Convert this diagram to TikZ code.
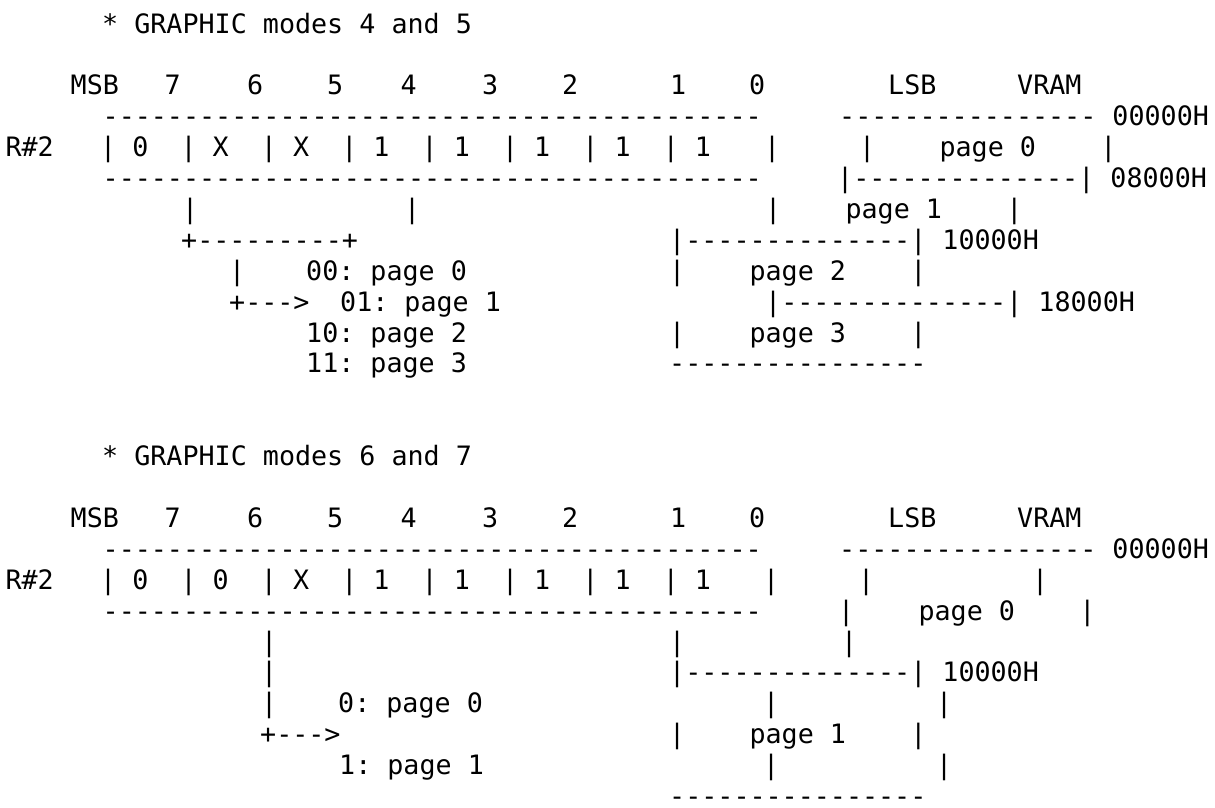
\documentclass[tikz,border=0pt]{standalone}
\usepackage{fontspec}
\setmonofont{DejaVu Sans Mono}
\usepackage{tikz}

\tikzset{
  ascii/.style={font=\ttfamily\fontsize{26.7}{31}\selectfont,
                inner sep=0pt, anchor=base west},
}

% Rules of the register box and the VRAM map
\newcommand{\bitrule}{----------%
----------%
----------%
----------%
-}
\newcommand{\vramrule}{----------------}
\newcommand{\vramsep}{|--------------|}

\begin{document}
\begin{tikzpicture}[x=1pt, y=-30.9pt]
  \useasboundingbox[fill=white] (0pt,0pt) rectangle (1215pt,-807pt);

  \begin{scope}[yshift=-33pt]
  % ---- GRAPHIC modes 4 and 5 ----
  \node[ascii] (titleA) at (102, 0) {*~GRAPHIC~modes~4~and~5};

  % Bit numbers
  \node[ascii] (msbA)  at (70.5, 2)  {MSB};
  \node[ascii] (b7A)   at (164.5, 2) {7};
  \node[ascii] (b6A)   at (247, 2)   {6};
  \node[ascii] (b5A)   at (327, 2)   {5};
  \node[ascii] (b4A)   at (400.5, 2) {4};
  \node[ascii] (b3A)   at (482, 2)   {3};
  \node[ascii] (b2A)   at (562, 2)   {2};
  \node[ascii] (b1A)   at (670, 2)   {1};
  \node[ascii] (b0A)   at (749, 2)   {0};
  \node[ascii] (lsbA)  at (888, 2)   {LSB};
  \node[ascii] (vramA) at (1017, 2)  {VRAM};

  % Register R#2
  \node[ascii] (topA)  at (102.5, 3) {\bitrule};
  \node[ascii] (regA)  at (5.4, 4)   {R\#2};
  \node[ascii] (bitsA) at (100, 4)   {|~0~~|~X~~|~X~~|~1~~|~1~~|~1~~|~1~~|~1};
  \node[ascii] (endA)  at (764, 4)   {|};
  \node[ascii] (botA)  at (102.5, 5) {\bitrule};

  % Page select lines
  \node[ascii] (selA1)  at (182, 6) {|};
  \node[ascii] (selA2)  at (404, 6) {|};
  \node[ascii] (joinA)  at (181, 7) {+---------+};
  \node[ascii] (downA)  at (229, 8) {|};
  \node[ascii] (arrowA) at (229, 9) {+--->};

  % Page codes
  \node[ascii] (pg0A) at (306, 8)  {00:~page~0};
  \node[ascii] (pg1A) at (340, 9)  {01:~page~1};
  \node[ascii] (pg2A) at (306, 10) {10:~page~2};
  \node[ascii] (pg3A) at (306, 11) {11:~page~3};

  % VRAM map
  \node[ascii] (v0A) at (839, 3)  {\vramrule~00000H};
  \node[ascii] (v1A) at (859, 4)  {|~~~~page~0~~~~|};
  \node[ascii] (v2A) at (837, 5)  {\vramsep~08000H};
  \node[ascii] (v3A) at (765, 6)  {|~~~~page~1~~~~|};
  \node[ascii] (v4A) at (669, 7)  {\vramsep~10000H};
  \node[ascii] (v5A) at (669, 8)  {|~~~~page~2~~~~|};
  \node[ascii] (v6A) at (765, 9)  {\vramsep~18000H};
  \node[ascii] (v7A) at (669, 10) {|~~~~page~3~~~~|};
  \node[ascii] (v8A) at (669, 11) {\vramrule};

  % ---- GRAPHIC modes 6 and 7 ----
  \node[ascii] (titleB) at (102, 14) {*~GRAPHIC~modes~6~and~7};

  % Bit numbers
  \node[ascii] (msbB)  at (70.5, 16)  {MSB};
  \node[ascii] (b7B)   at (164.5, 16) {7};
  \node[ascii] (b6B)   at (247, 16)   {6};
  \node[ascii] (b5B)   at (327, 16)   {5};
  \node[ascii] (b4B)   at (400.5, 16) {4};
  \node[ascii] (b3B)   at (482, 16)   {3};
  \node[ascii] (b2B)   at (562, 16)   {2};
  \node[ascii] (b1B)   at (670, 16)   {1};
  \node[ascii] (b0B)   at (749, 16)   {0};
  \node[ascii] (lsbB)  at (888, 16)   {LSB};
  \node[ascii] (vramB) at (1017, 16)  {VRAM};

  % Register R#2
  \node[ascii] (topB)  at (102.5, 17) {\bitrule};
  \node[ascii] (regB)  at (5.4, 18)   {R\#2};
  \node[ascii] (bitsB) at (100, 18)   {|~0~~|~0~~|~X~~|~1~~|~1~~|~1~~|~1~~|~1};
  \node[ascii] (endB)  at (763, 18)   {|};
  \node[ascii] (botB)  at (102.5, 19) {\bitrule};

  % Page select line
  \node[ascii] (selB1)  at (261, 20) {|};
  \node[ascii] (selB2)  at (261, 21) {|};
  \node[ascii] (selB3)  at (261, 22) {|};
  \node[ascii] (arrowB) at (260, 23) {+--->};

  % Page codes
  \node[ascii] (pg0B) at (338, 22) {0:~page~0};
  \node[ascii] (pg1B) at (339, 24) {1:~page~1};

  % VRAM map
  \node[ascii] (w0B)  at (839, 17)  {\vramrule~00000H};
  \node[ascii] (w1B)  at (858, 18)  {|};
  \node[ascii] (w2B)  at (1032, 18) {|};
  \node[ascii] (w3B)  at (838, 19)  {|~~~~page~0~~~~|};
  \node[ascii] (w4B)  at (669, 20)  {|};
  \node[ascii] (w5B)  at (841, 20)  {|};
  \node[ascii] (w6B)  at (669, 21)  {\vramsep~10000H};
  \node[ascii] (w7B)  at (763, 22)  {|};
  \node[ascii] (w8B)  at (936, 22)  {|};
  \node[ascii] (w9B)  at (669, 23)  {|~~~~page~1~~~~|};
  \node[ascii] (w10B) at (763, 24)  {|};
  \node[ascii] (w11B) at (936, 24)  {|};
  \node[ascii] (w12B) at (669, 25)  {\vramrule};
  \end{scope}
\end{tikzpicture}
\end{document}
